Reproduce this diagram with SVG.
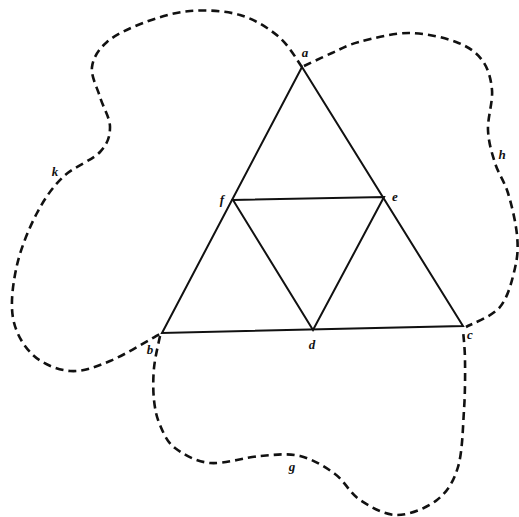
<svg xmlns="http://www.w3.org/2000/svg" width="519" height="517" viewBox="0 0 519 517">
<style>
.edge{stroke:#111;stroke-width:2;fill:none;stroke-linecap:round}
.curve{stroke:#111;stroke-width:2.6;fill:none;stroke-dasharray:8 5}
.lbl{font-family:"Liberation Serif",serif;font-style:italic;font-weight:bold;font-size:13px;fill:#111;text-anchor:middle}
</style>
<rect width="519" height="517" fill="#fff"/>
<g id="connectors">
<path class="edge" d="M302,67 L162,333 L463,326 Z"/>
<path class="edge" d="M233,200 L384,197 L313,330 Z"/>
<path id="curve-k" class="curve" d="M302,67 C298.2,62 289.3,45.7 279,37 C268.7,28.3 254.8,19.3 240,15 C225.2,10.7 206.2,9.7 190,11 C173.8,12.3 156.8,17.8 143,23 C129.2,28.2 115.5,34.7 107,42 C98.5,49.3 93.2,57.8 92,67 C90.8,76.2 97,87 100,97 C103,107 110,117.8 110,127 C110,136.2 107.8,143.7 100,152 C92.2,160.3 73.5,166.8 63,177 C52.5,187.2 44.7,198.3 37,213 C29.3,227.7 21,247.5 17,265 C13,282.5 10.3,303 13,318 C15.7,333 23.5,346.2 33,355 C42.5,363.8 57.2,370 70,371 C82.8,372 95,367.2 110,361 C125,354.8 151.7,338.5 160,334"/>
<path id="curve-h" class="curve" d="M304,66 C308.7,63.8 322.8,57 332,53 C341.2,49 346.2,45.3 359,42 C371.8,38.7 392.8,33 409,33 C425.2,33 443.8,37.5 456,42 C468.2,46.5 476,52 482,60 C488,68 491,78.3 492,90 C493,101.7 487.5,117.8 488,130 C488.5,142.2 491.7,152.5 495,163 C498.3,173.5 504.3,181 508,193 C511.7,205 515.8,222.5 517,235 C518.2,247.5 517.8,256 515,268 C512.2,280 508.2,297.2 500,307 C491.8,316.8 471.7,323.7 466,327"/>
<path id="curve-g" class="curve" d="M160,336 C159,341.3 155,357.3 154,368 C153,378.7 153,390.5 154,400 C155,409.5 156.5,417 160,425 C163.5,433 166.7,441.7 175,448 C183.3,454.3 195.8,461.7 210,463 C224.2,464.3 245,457.2 260,456 C275,454.8 287.5,453 300,456 C312.5,459 325,466.7 335,474 C345,481.3 349.7,493.2 360,500 C370.3,506.8 384.2,515 397,515 C409.8,515 426.8,508 437,500 C447.2,492 453.5,482 458,467 C462.5,452 462.8,427.8 464,410 C465.2,392.2 465.2,373.3 465,360 C464.8,346.7 463.3,335 463,330"/>
</g>
<g id="node-a"><text class="lbl" x="305" y="57">a</text></g>
<g id="node-b"><text class="lbl" x="150" y="354">b</text></g>
<g id="node-c"><text class="lbl" x="470" y="339">c</text></g>
<g id="node-d"><text class="lbl" x="312" y="349">d</text></g>
<g id="node-e"><text class="lbl" x="395" y="201">e</text></g>
<g id="node-f"><text class="lbl" x="222" y="204">f</text></g>
<g id="label-k"><text class="lbl" x="55" y="176">k</text></g>
<g id="label-h"><text class="lbl" x="502" y="159">h</text></g>
<g id="label-g"><text class="lbl" x="292" y="471">g</text></g>
</svg>
